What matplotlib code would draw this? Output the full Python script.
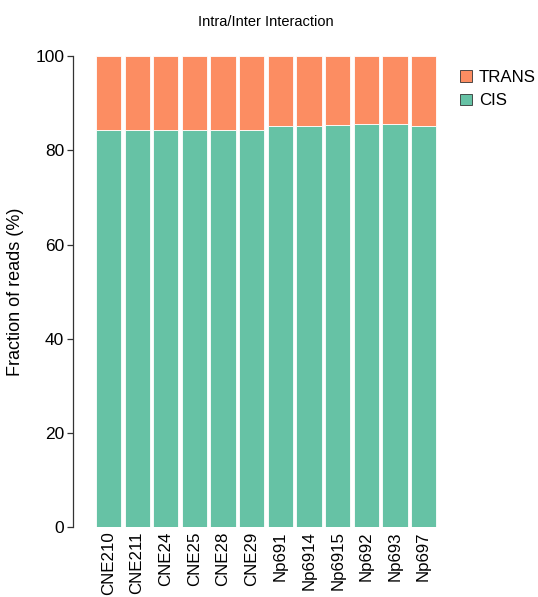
import numpy as np
import matplotlib.pyplot as plt
from matplotlib.patches import Patch

plt.rcParams['font.family'] = ['Liberation Sans', 'DejaVu Sans']

samples = ['CNE210', 'CNE211', 'CNE24', 'CNE25', 'CNE28', 'CNE29',
           'Np691', 'Np6914', 'Np6915', 'Np692', 'Np693', 'Np697']
cis = [84.4, 84.4, 84.4, 84.4, 84.4, 84.4, 85.2, 85.1, 85.4, 85.6, 85.5, 85.1]
trans = [100 - c for c in cis]

CIS_COLOR = '#66C2A5'
TRANS_COLOR = '#FC8D62'

fig = plt.figure(figsize=(5.38, 5.97), dpi=100)
ax = fig.add_axes([0.175, 0.117, 0.639, 0.789])

x = np.arange(len(samples))
ax.bar(x, cis, width=0.88, color=CIS_COLOR, edgecolor='white', linewidth=0.6)
ax.bar(x, trans, bottom=cis, width=0.88, color=TRANS_COLOR, edgecolor='white', linewidth=0.6)

ax.set_xlim(-0.5, len(samples) - 0.5)
ax.set_ylim(0, 100)
ax.set_yticks([0, 20, 40, 60, 80, 100])
ax.set_xticks(x)
ax.set_xticklabels(samples, rotation=90, fontsize=12.2)
ax.tick_params(axis='x', length=0, pad=3)
ax.tick_params(axis='y', labelsize=12.5, length=4.5, width=0.9, color='#333333', pad=2)

for s in ['top', 'right', 'bottom']:
    ax.spines[s].set_visible(False)
ax.spines['left'].set_position(('outward', 15))
ax.spines['left'].set_color('#333333')
ax.spines['left'].set_linewidth(0.9)

ax.set_ylabel('Fraction of reads (%)', fontsize=13, labelpad=8)
ax.set_title('Intra/Inter Interaction', fontsize=10.5, pad=22)

handles = [Patch(facecolor=TRANS_COLOR, edgecolor='#333333', linewidth=0.6, label='TRANS'),
           Patch(facecolor=CIS_COLOR, edgecolor='#333333', linewidth=0.6, label='CIS')]
ax.legend(handles=handles, loc='upper left', bbox_to_anchor=(1.045, 0.985), frameon=False,
          fontsize=12.2, handlelength=0.7, handleheight=0.7, handletextpad=0.4,
          labelspacing=0.5, borderaxespad=0)

fig.savefig('out.png', dpi=100)
